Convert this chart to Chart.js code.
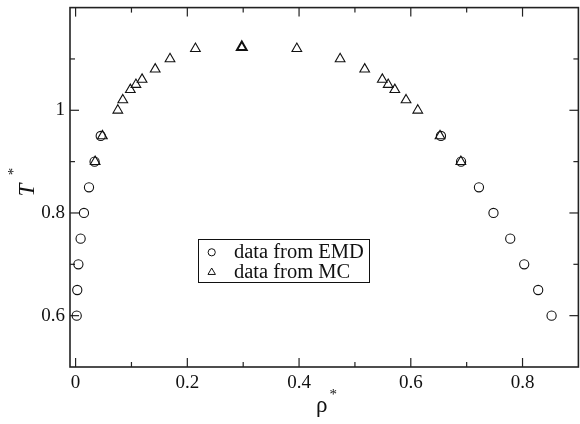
<!DOCTYPE html>
<html><head><meta charset="utf-8">
<script src="https://cdn.jsdelivr.net/npm/chart.js@4/dist/chart.umd.min.js"></script>
<style>html,body{margin:0;padding:0;overflow:hidden;background:#fff}#wrap{width:586px;height:424px}</style>
</head><body><div id="wrap"><canvas id="c" width="586" height="424"></canvas></div>
<script>
// ---- data ----
const emdRho = [0.002, 0.003, 0.005, 0.009, 0.015, 0.024, 0.034, 0.045, 0.654, 0.690, 0.722, 0.748, 0.778, 0.803, 0.828, 0.852];
const emdT   = [0.60, 0.65, 0.70, 0.75, 0.80, 0.85, 0.90, 0.95, 0.95, 0.90, 0.85, 0.80, 0.75, 0.70, 0.65, 0.60];
const mcRho  = [0.035, 0.048, 0.0756, 0.0845, 0.098, 0.108, 0.119, 0.1425, 0.169, 0.2145, 0.2975, 0.396, 0.4735, 0.5175, 0.549, 0.5595, 0.5714, 0.5915, 0.6125, 0.6523, 0.6896];
const mcT    = [0.90, 0.95, 1.00, 1.02, 1.04, 1.05, 1.06, 1.08, 1.10, 1.12, 1.123, 1.12, 1.10, 1.08, 1.06, 1.05, 1.04, 1.02, 1.00, 0.95, 0.90];
const seriesLabels = ['data from EMD', 'data from MC'];
const xMajor = [0, 0.2, 0.4, 0.6, 0.8];
const xMinor = [0.1, 0.3, 0.5, 0.7];
const yMajor = [0.6, 0.8, 1.0];
const yMinor = [0.7, 0.9, 1.1];
const xTickLabels = ['0', '0.2', '0.4', '0.6', '0.8'];
const yTickLabels = ['0.6', '0.8', '1'];
const xTitle = 'ρ', yTitle = 'T', titleSup = '*';

const INK = '#111';
const SERIF = '"Liberation Serif", "Times New Roman", Times, serif';

function drawCircle(ctx, x, y, r) { ctx.beginPath(); ctx.arc(x, y, r, 0, Math.PI * 2); ctx.stroke(); }
function drawTri(ctx, x, y, r) {
  ctx.beginPath();
  for (let k = 0; k < 3; k++) {
    const a = k * 2 * Math.PI / 3;
    const px = x + Math.sin(a) * r, py = y - Math.cos(a) * r;
    k ? ctx.lineTo(px, py) : ctx.moveTo(px, py);
  }
  ctx.closePath(); ctx.stroke();
}

const framePlugin = {
  id: 'frame',
  beforeDatasetsDraw(chart) {
    const { ctx, chartArea: a, scales: { x, y } } = chart;
    ctx.save();
    ctx.strokeStyle = '#222';
    ctx.lineWidth = 1.6;
    ctx.strokeRect(a.left, a.top, a.right - a.left, a.bottom - a.top);
    ctx.lineWidth = 1.2;
    const seg = (x1, y1, x2, y2) => { ctx.beginPath(); ctx.moveTo(x1, y1); ctx.lineTo(x2, y2); ctx.stroke(); };
    const xt = (v, len) => { const p = x.getPixelForValue(v); seg(p, a.bottom, p, a.bottom - len); seg(p, a.top, p, a.top + len); };
    const yt = (v, len) => { const p = y.getPixelForValue(v); seg(a.left, p, a.left + len, p); seg(a.right, p, a.right - len, p); };
    xMajor.forEach(v => xt(v, 9)); xMinor.forEach(v => xt(v, 5));
    yMajor.forEach(v => yt(v, 9)); yMinor.forEach(v => yt(v, 5));
    ctx.restore();
  },
  afterDraw(chart) {
    const { ctx } = chart;
    ctx.save();
    ctx.fillStyle = INK; ctx.strokeStyle = INK;
    // legend
    ctx.lineWidth = 1;
    ctx.strokeRect(198.5, 239.5, 171, 43);
    ctx.font = '20.5px ' + SERIF;
    ctx.textBaseline = 'middle'; ctx.textAlign = 'left';
    ctx.fillText(seriesLabels[0], 234, 253);
    ctx.fillText(seriesLabels[1], 234, 272.5);
    ctx.lineWidth = 1;
    drawCircle(ctx, 211.7, 252.3, 3.6);
    drawTri(ctx, 211.7, 272.3, 4.3);
    // y title
    ctx.save();
    ctx.translate(27.5, 190);
    ctx.rotate(-Math.PI / 2);
    ctx.textAlign = 'center'; ctx.textBaseline = 'middle';
    ctx.font = 'italic 23px ' + SERIF;
    ctx.fillText(yTitle, 0, 0);
    ctx.font = '15px ' + SERIF;
    ctx.fillText(titleSup, 18.5, -13);
    ctx.restore();
    // x title
    ctx.textAlign = 'center'; ctx.textBaseline = 'alphabetic';
    ctx.font = '23px ' + SERIF;
    ctx.fillText(xTitle, 321.7, 411.5);
    ctx.font = '15px ' + SERIF;
    ctx.textBaseline = 'middle';
    ctx.fillText(titleSup, 333.3, 395);
    ctx.restore();
  }
};

const tMax = Math.max(...mcT);
const chart = new Chart(document.getElementById('c'), {
  type: 'scatter',
  data: {
    datasets: [
      { label: seriesLabels[0], data: emdRho.map((r, i) => ({ x: r, y: emdT[i] })),
        pointStyle: 'circle', pointRadius: 4.6, pointBorderWidth: 1.1,
        borderColor: INK, backgroundColor: 'rgba(0,0,0,0)', pointBackgroundColor: 'rgba(0,0,0,0)', pointBorderColor: INK },
      { label: seriesLabels[1], data: mcRho.map((r, i) => ({ x: r, y: mcT[i] })),
        pointStyle: 'triangle', pointRadius: 5.6,
        pointBorderWidth: c => (mcT[c.dataIndex] === tMax ? 2 : 1.1),
        borderColor: INK, backgroundColor: 'rgba(0,0,0,0)', pointBackgroundColor: 'rgba(0,0,0,0)', pointBorderColor: INK }
    ]
  },
  options: {
    responsive: false, animation: false, events: [], devicePixelRatio: 1,
    layout: { padding: { top: 7, right: 3, left: 0, bottom: 0 } },
    plugins: { legend: { display: false }, tooltip: { enabled: false } },
    scales: {
      x: {
        type: 'linear', min: -0.01, max: 0.9,
        afterBuildTicks: s => { s.ticks = xMajor.map(v => ({ value: v })); },
        afterFit: s => { s.height = 57; s.paddingLeft = 0; s.paddingRight = 0; },
        grid: { display: false, drawTicks: false }, border: { display: false },
        ticks: { padding: 5, color: INK, maxRotation: 0, autoSkip: false,
          font: { family: SERIF, size: 19 }, callback: (v, i) => xTickLabels[i] }
      },
      y: {
        type: 'linear', min: 0.5, max: 1.2,
        afterBuildTicks: s => { s.ticks = yMajor.map(v => ({ value: v })); },
        afterFit: s => { s.width = 70; s.paddingTop = 0; s.paddingBottom = 0; },
        grid: { display: false, drawTicks: false }, border: { display: false },
        ticks: { padding: 5, color: INK, autoSkip: false,
          font: { family: SERIF, size: 19 }, callback: (v, i) => yTickLabels[i] }
      }
    }
  },
  plugins: [framePlugin]
});
if (document.fonts && document.fonts.load) {
  document.fonts.load('19px "Liberation Serif"').then(() => chart.update()).catch(() => {});
}
</script></body></html>
